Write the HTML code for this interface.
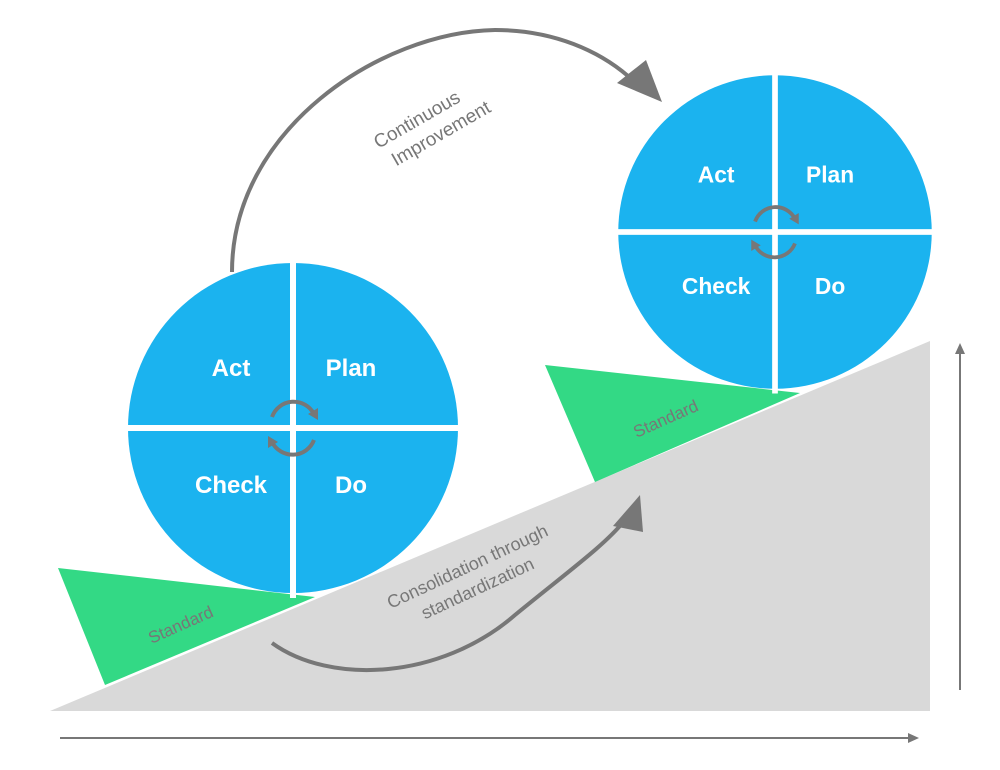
<!DOCTYPE html>
<html><head><style>body{margin:0;background:#fff}svg{display:block}</style></head><body>
<svg width="1000" height="770" viewBox="0 0 1000 770" xmlns="http://www.w3.org/2000/svg" font-family="Liberation Sans, sans-serif">
<defs>
<g id="pdca">
<circle cx="0" cy="0" r="165" fill="#1bb3ef"/>
<rect x="-3" y="-170" width="6" height="340" fill="#fff"/>
<rect x="-170" y="-3" width="340" height="6" fill="#fff"/>
<text x="-62" y="-52" font-size="24" fill="#fff" text-anchor="middle" font-weight="bold">Act</text>
<text x="58" y="-52" font-size="24" fill="#fff" text-anchor="middle" font-weight="bold">Plan</text>
<text x="-62" y="65" font-size="24" fill="#fff" text-anchor="middle" font-weight="bold">Check</text>
<text x="58" y="65" font-size="24" fill="#fff" text-anchor="middle" font-weight="bold">Do</text>
<path d="M-21,-11 A23,23 0 0 1 21,-14" fill="none" stroke="#777" stroke-width="4"/>
<polygon points="25,-8 15,-14 25,-20" fill="#777"/>
<path d="M21,12 A23,23 0 0 1 -21,14" fill="none" stroke="#777" stroke-width="4"/>
<polygon points="-25,8 -15,14 -25,20" fill="#777"/>
</g>
</defs>
<polygon points="50,711 930,341 930,711" fill="#d9d9d9"/>
<polygon points="58,568 315,597 105,685" fill="#33d985"/>
<polygon points="545,365 800,393 595,482" fill="#33d985"/>
<text transform="translate(183,630) rotate(-24)" font-size="17" fill="#777" text-anchor="middle">Standard</text>
<text transform="translate(668,424) rotate(-24)" font-size="17" fill="#777" text-anchor="middle">Standard</text>
<use href="#pdca" transform="translate(293,428)"/>
<use href="#pdca" transform="translate(775,232) scale(0.95)"/>
<path d="M232,272 C232,130 380,32 495,30 C555,30 600,52 628,76" fill="none" stroke="#777" stroke-width="4"/>
<polygon points="662,102 617,83 646,60" fill="#777"/>
<text transform="translate(420,125) rotate(-30)" font-size="19" fill="#777" text-anchor="middle"><tspan x="0" y="0">Continuous</tspan><tspan x="14" y="24">Improvement</tspan></text>
<path d="M272,643 C330,685 440,680 515,615 C570,570 605,545 625,520" fill="none" stroke="#777" stroke-width="4"/>
<polygon points="640,495 613,526 643,532" fill="#777"/>
<text transform="translate(470,572) rotate(-25)" font-size="18" fill="#777" text-anchor="middle"><tspan x="0" y="0">Consolidation through</tspan><tspan x="0" y="24">standardization</tspan></text>
<line x1="960" y1="690" x2="960" y2="350" stroke="#777" stroke-width="2"/>
<polygon points="960,343 955,354 965,354" fill="#777"/>
<line x1="60" y1="738" x2="912" y2="738" stroke="#777" stroke-width="2"/>
<polygon points="919,738 908,733 908,743" fill="#777"/>
</svg>
</body></html>
